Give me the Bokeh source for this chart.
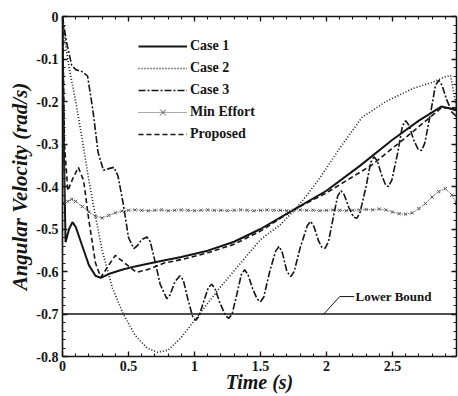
from bokeh.plotting import figure
from bokeh.models import (Range1d, LinearAxis, SingleIntervalTicker, NumeralTickFormatter,
                          Legend, LegendItem, Label, Span)
from bokeh.embed import file_html
from bokeh.resources import INLINE

# ---- data -------------------------------------------------------------
case1_t = [0, 0.01, 0.023, 0.05, 0.075, 0.1, 0.15, 0.2, 0.25, 0.29, 0.35, 0.45, 0.55,
           0.7, 0.9, 1.1, 1.3, 1.5, 1.75, 2.0, 2.25, 2.5, 2.7, 2.87, 2.985]
case1_w = [0, -0.3, -0.531, -0.5, -0.484, -0.495, -0.54, -0.585, -0.61, -0.615, -0.606,
           -0.596, -0.588, -0.578, -0.566, -0.551, -0.53, -0.5, -0.455, -0.41, -0.352,
           -0.29, -0.245, -0.212, -0.22]

case2_t = [0, 0.02, 0.05, 0.1, 0.15, 0.2, 0.25, 0.3, 0.38, 0.46, 0.55, 0.64, 0.72, 0.8,
           0.9, 1.0, 1.1, 1.2, 1.35, 1.5, 1.65, 1.76, 1.84, 1.95, 2.1, 2.27, 2.45, 2.65,
           2.8, 2.9, 2.94, 2.985]
case2_w = [0, -0.06, -0.12, -0.2, -0.29, -0.386, -0.47, -0.55, -0.64, -0.70, -0.75, -0.78,
           -0.79, -0.785, -0.755, -0.715, -0.675, -0.635, -0.58, -0.525, -0.49, -0.455,
           -0.425, -0.38, -0.31, -0.237, -0.2, -0.17, -0.155, -0.142, -0.139, -0.215]

case3_t = [0, 0.03, 0.07, 0.1, 0.15, 0.19, 0.23, 0.27, 0.31, 0.35, 0.39, 0.42, 0.46, 0.5,
           0.54, 0.565, 0.6, 0.64, 0.665, 0.7, 0.74, 0.79, 0.815, 0.85, 0.89, 0.915, 0.95,
           0.985, 1.01, 1.035, 1.07, 1.105, 1.13, 1.155, 1.19, 1.235, 1.26, 1.285, 1.32,
           1.355, 1.38, 1.405, 1.44, 1.475, 1.5, 1.525, 1.57, 1.615, 1.64, 1.665, 1.7,
           1.73, 1.755, 1.8, 1.855, 1.88, 1.905, 1.94, 1.965, 1.99, 2.015, 2.05, 2.085,
           2.11, 2.135, 2.17, 2.205, 2.23, 2.255, 2.3, 2.335, 2.36, 2.385, 2.42, 2.45,
           2.47, 2.495, 2.54, 2.575, 2.6, 2.625, 2.66, 2.695, 2.72, 2.745, 2.79, 2.825,
           2.85, 2.875, 2.91, 2.95, 2.985]
case3_w = [0, -0.06, -0.115, -0.125, -0.13, -0.14, -0.22, -0.32, -0.362, -0.358, -0.355,
           -0.375, -0.44, -0.52, -0.546, -0.54, -0.525, -0.519, -0.53, -0.575, -0.63,
           -0.664, -0.655, -0.625, -0.61, -0.62, -0.665, -0.705, -0.715, -0.705, -0.67,
           -0.638, -0.63, -0.64, -0.672, -0.704, -0.71, -0.7, -0.655, -0.607, -0.596,
           -0.607, -0.64, -0.665, -0.671, -0.66, -0.6, -0.552, -0.541, -0.555, -0.6,
           -0.612, -0.6, -0.545, -0.492, -0.482, -0.494, -0.528, -0.543, -0.545, -0.53,
           -0.475, -0.422, -0.41, -0.42, -0.45, -0.472, -0.475, -0.46, -0.4, -0.343,
           -0.33, -0.34, -0.375, -0.398, -0.4, -0.385, -0.32, -0.258, -0.245, -0.256,
           -0.29, -0.313, -0.315, -0.298, -0.225, -0.163, -0.15, -0.162, -0.195, -0.225,
           -0.235]

min_effort_t = [0, 0.015, 0.04, 0.07, 0.1, 0.15, 0.2, 0.25, 0.3, 0.35, 0.4, 0.45, 0.5,
                0.55, 0.6, 0.65, 0.7, 0.75, 0.8, 0.85, 0.9, 0.95, 1.0, 1.05, 1.1, 1.15,
                1.2, 1.25, 1.3, 1.35, 1.4, 1.45, 1.5, 1.55, 1.6, 1.65, 1.7, 1.75, 1.8,
                1.85, 1.9, 1.95, 2.0, 2.05, 2.1, 2.15, 2.2, 2.25, 2.3, 2.35, 2.4, 2.45,
                2.5, 2.55, 2.6, 2.65, 2.7, 2.75, 2.8, 2.85, 2.9, 2.95, 2.985]
min_effort_w = [0, -0.44, -0.435, -0.43, -0.435, -0.447, -0.46, -0.47, -0.474, -0.468,
                -0.462, -0.458, -0.456, -0.455, -0.456, -0.457, -0.456, -0.455, -0.457,
                -0.456, -0.455, -0.456, -0.457, -0.456, -0.455, -0.456, -0.456, -0.457,
                -0.456, -0.455, -0.456, -0.457, -0.456, -0.455, -0.456, -0.456, -0.457,
                -0.456, -0.455, -0.456, -0.456, -0.457, -0.456, -0.455, -0.456, -0.457,
                -0.456, -0.455, -0.454, -0.455, -0.453, -0.455, -0.46, -0.464, -0.465,
                -0.462, -0.452, -0.44, -0.425, -0.412, -0.405, -0.42, -0.44]

proposed_t = [0, 0.015, 0.04, 0.08, 0.12, 0.16, 0.2, 0.25, 0.29, 0.34, 0.4, 0.47, 0.56,
              0.65, 0.77, 0.9, 1.1, 1.3, 1.5, 1.75, 2.0, 2.34, 2.6, 2.87, 2.985]
proposed_w = [0, -0.3, -0.41, -0.38, -0.355, -0.386, -0.48, -0.58, -0.614, -0.59, -0.562,
              -0.58, -0.602, -0.595, -0.58, -0.572, -0.556, -0.536, -0.505, -0.455,
              -0.415, -0.35, -0.285, -0.215, -0.215]

lower_bound = -0.7
lower_bound_leader_t = [1.98, 2.10, 2.21]
lower_bound_leader_w = [-0.7, -0.659, -0.659]

series_names = ["Case 1", "Case 2", "Case 3", "Min Effort", "Proposed"]
x_title = "Time (s)"
y_title = "Angular Velocity (rad/s)"

# ---- figure & axes --------------------------------------------------------
SERIF = "Liberation Serif"
INK = "#151515"

p = figure(width=458, height=396, output_backend="svg", toolbar_location=None,
           x_range=Range1d(0, 2.985), y_range=Range1d(-0.8, 0),
           min_border_left=62, min_border_right=2, min_border_top=16,
           min_border_bottom=40, background_fill_color="white",
           border_fill_color="white")
p.grid.visible = False
p.outline_line_color = None


def style_axis(ax, show_labels):
    ax.axis_line_width = 1.6
    ax.axis_line_color = INK
    ax.major_tick_in = 5
    ax.major_tick_out = 0
    ax.minor_tick_in = 3
    ax.minor_tick_out = 0
    ax.major_tick_line_color = INK
    ax.minor_tick_line_color = INK
    ax.major_tick_line_width = 1.3
    ax.minor_tick_line_width = 1.1
    ax.major_label_text_font = SERIF
    ax.major_label_text_font_style = "bold"
    ax.formatter = NumeralTickFormatter(format="0.[0]")
    if show_labels:
        ax.major_label_text_color = INK
        ax.major_label_text_font_size = "14px"
        ax.major_label_standoff = 4
    else:
        # frame-only axis: ticks, no numbers
        ax.major_label_text_color = None
        ax.major_label_text_font_size = "1px"
        ax.major_label_standoff = 0


x_ticker = SingleIntervalTicker(interval=0.5, num_minor_ticks=5)
y_ticker = SingleIntervalTicker(interval=0.1, num_minor_ticks=5)

p.xaxis.ticker = x_ticker
p.yaxis.ticker = y_ticker
style_axis(p.xaxis[0], True)
style_axis(p.yaxis[0], True)

for ax, title, size, standoff in ((p.xaxis[0], x_title, "20px", -3),
                                  (p.yaxis[0], y_title, "21px", 1)):
    ax.axis_label = title
    ax.axis_label_text_font = SERIF
    ax.axis_label_text_font_style = "bold italic"
    ax.axis_label_text_font_size = size
    ax.axis_label_text_color = INK
    ax.axis_label_standoff = standoff

top_axis = LinearAxis(ticker=x_ticker)
right_axis = LinearAxis(ticker=y_ticker)
style_axis(top_axis, False)
style_axis(right_axis, False)
p.add_layout(top_axis, "above")
p.add_layout(right_axis, "right")

# ---- curves -------------------------------------------------------------
r1 = p.line(case1_t, case1_w, line_color=INK, line_width=2.0)
r2 = p.line(case2_t, case2_w, line_color=INK, line_width=1.6, line_dash="1 2")
r3 = p.line(case3_t, case3_w, line_color=INK, line_width=1.6, line_dash="7 2 2 2")
r4a = p.line(min_effort_t, min_effort_w, line_color="#555555", line_width=1.0,
             line_dash="1 1")
r4b = p.scatter(min_effort_t, min_effort_w, marker="x", size=4.5, line_color="#555555",
                line_width=1.0)
r5 = p.line(proposed_t, proposed_w, line_color=INK, line_width=1.6, line_dash="5 3")

p.add_layout(Span(location=lower_bound, dimension="width", line_color=INK,
                  line_width=1.4))
p.line(lower_bound_leader_t, lower_bound_leader_w, line_color=INK, line_width=1.0)
p.add_layout(Label(x=lower_bound_leader_t[-1] + 0.01, y=lower_bound_leader_w[-1],
                   text="Lower Bound", text_font=SERIF, text_font_style="bold",
                   text_font_size="13px", text_color=INK, text_baseline="middle"))

legend = Legend(items=[LegendItem(label=series_names[0], renderers=[r1]),
                       LegendItem(label=series_names[1], renderers=[r2]),
                       LegendItem(label=series_names[2], renderers=[r3]),
                       LegendItem(label=series_names[3], renderers=[r4a, r4b]),
                       LegendItem(label=series_names[4], renderers=[r5])],
                location=(76, 212), border_line_alpha=0, background_fill_alpha=0,
                glyph_width=49, glyph_height=20, label_height=20, spacing=2,
                padding=0, margin=0, label_standoff=3,
                label_text_font=SERIF, label_text_font_style="bold",
                label_text_font_size="14px", label_text_color=INK)
p.add_layout(legend)

open("out.html", "w").write(file_html(p, INLINE))
